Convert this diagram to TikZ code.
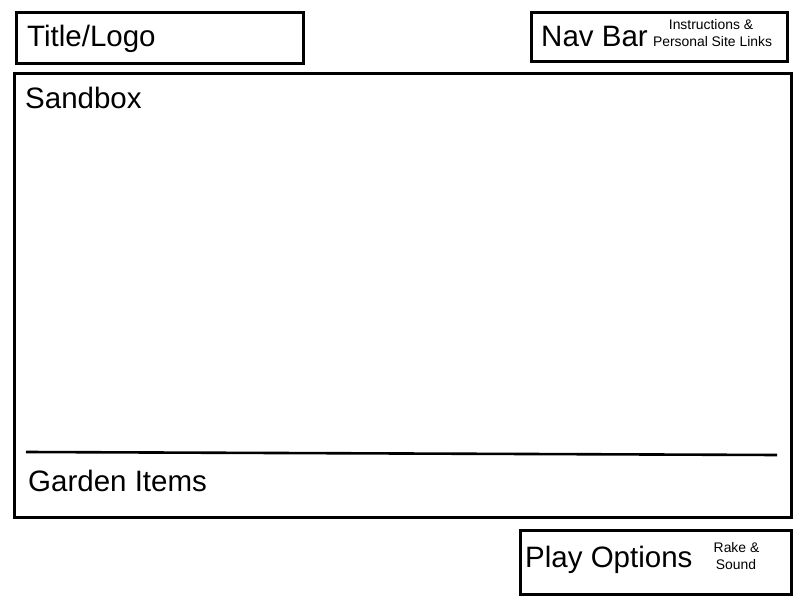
\documentclass[tikz,border=0pt]{standalone}
\usepackage{fontspec}
\setmainfont{Liberation Sans}
\begin{document}
\begin{tikzpicture}[x=1pt,y=1pt,
  box/.style={draw, line width=2.6pt, inner sep=0pt, anchor=north west},
  big/.style={font=\fontsize{29.5}{34}\selectfont, anchor=base west, inner sep=0pt},
  small/.style={font=\fontsize{13.9}{17}\selectfont, anchor=base, inner sep=0pt}]
\useasboundingbox (0,0) rectangle (800,600);
% boxes
\node[box, minimum width=287pt, minimum height=51pt] (title) at (15,589) {};
\node[box, minimum width=256pt, minimum height=49pt] (nav) at (530,589) {};
\node[box, minimum width=777pt, minimum height=444pt] (sandbox) at (13,528) {};
\node[box, minimum width=271pt, minimum height=64pt] (play) at (519,71) {};
% separator
\coordinate (sepL) at (26,148);
\coordinate (sepR) at (777,145);
\draw[line width=2.6pt] (sepL) -- (sepR);
% texts
\node[big] (titletext) at (27,553) {Title/Logo};
\node[big] (navtext) at (541,553) {Nav Bar};
\node[small] (instr) at (711,570) {Instructions \&};
\node[small] (links) at (712.5,553) {Personal Site Links};
\node[big] (sandtext) at (25,491) {Sandbox};
\node[big] (gardtext) at (28,109) {Garden Items};
\node[big] (playtext) at (525,33) {Play Options};
\node[small] (rake) at (736.5,48) {Rake \&};
\node[small] (sound) at (736,31) {Sound};
\end{tikzpicture}
\end{document}
